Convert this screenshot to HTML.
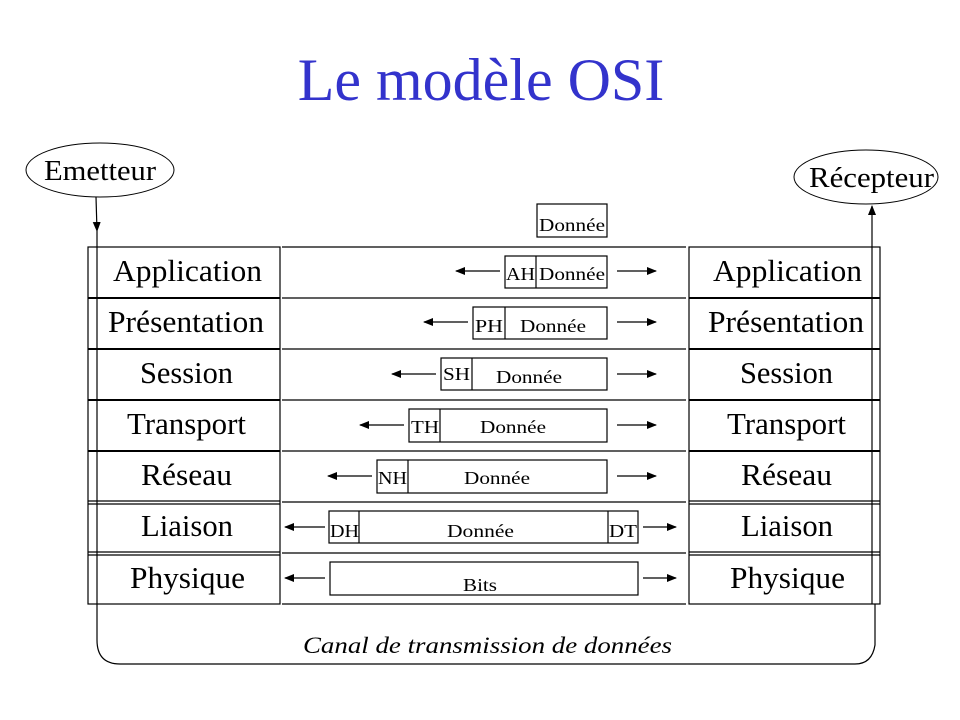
<!DOCTYPE html>
<html><head><meta charset="utf-8"><style>
html,body{margin:0;padding:0;background:#fff;}
svg{display:block;}
text{font-family:"Liberation Serif",serif;fill:#000;}
</style></head><body>
<svg width="960" height="720" viewBox="0 0 960 720" xmlns="http://www.w3.org/2000/svg">
<defs>
<marker id="ah" markerWidth="10" markerHeight="8" refX="9" refY="4" orient="auto" markerUnits="userSpaceOnUse">
<path d="M0,0 L10,4 L0,8 Z" fill="#000"/></marker>
</defs>
<text x="481" y="100" font-size="60" text-anchor="middle" style="fill:#3333cc">Le modèle OSI</text>

<ellipse cx="100" cy="170" rx="74" ry="27" fill="none" stroke="#000" stroke-width="1"/>
<text x="44" y="180" font-size="29" textLength="112" lengthAdjust="spacingAndGlyphs">Emetteur</text>
<ellipse cx="866" cy="177" rx="72" ry="27" fill="none" stroke="#000" stroke-width="1"/>
<text x="809" y="187" font-size="29" textLength="125" lengthAdjust="spacingAndGlyphs">Récepteur</text>

<g stroke="#000" stroke-width="1.2" fill="none">
<rect x="88" y="247" width="192" height="357"/>
<rect x="689" y="247" width="191" height="357"/>
<line x1="88" y1="298" x2="280" y2="298" stroke-width="2"/>
<line x1="88" y1="349" x2="280" y2="349" stroke-width="2"/>
<line x1="88" y1="400" x2="280" y2="400" stroke-width="2"/>
<line x1="88" y1="451" x2="280" y2="451" stroke-width="2"/>
<line x1="88" y1="501" x2="280" y2="501"/><line x1="88" y1="504" x2="280" y2="504"/>
<line x1="88" y1="552" x2="280" y2="552"/><line x1="88" y1="555" x2="280" y2="555"/>
<line x1="689" y1="298" x2="880" y2="298" stroke-width="2"/>
<line x1="689" y1="349" x2="880" y2="349" stroke-width="2"/>
<line x1="689" y1="400" x2="880" y2="400" stroke-width="2"/>
<line x1="689" y1="451" x2="880" y2="451" stroke-width="2"/>
<line x1="689" y1="501" x2="880" y2="501"/><line x1="689" y1="504" x2="880" y2="504"/>
<line x1="689" y1="552" x2="880" y2="552"/><line x1="689" y1="555" x2="880" y2="555"/>
<line x1="282" y1="247" x2="686" y2="247"/>
<line x1="282" y1="298" x2="686" y2="298"/>
<line x1="282" y1="349" x2="686" y2="349"/>
<line x1="282" y1="400" x2="686" y2="400"/>
<line x1="282" y1="451" x2="686" y2="451"/>
<line x1="282" y1="502" x2="686" y2="502"/>
<line x1="282" y1="553" x2="686" y2="553"/>
<line x1="282" y1="604" x2="686" y2="604"/>
<line x1="96" y1="197" x2="97" y2="231" marker-end="url(#ah)"/>
<path d="M97,231 L97,640 Q97,664 120,664 L855,664 Q872,664 875,645 L875,604"/>
<line x1="872" y1="604" x2="872" y2="206" marker-end="url(#ah)"/>
<rect x="537" y="204" width="70" height="33"/>
<rect x="505" y="256" width="102" height="32"/><line x1="536" y1="256" x2="536" y2="288"/>
<rect x="473" y="307" width="134" height="32"/><line x1="505" y1="307" x2="505" y2="339"/>
<rect x="441" y="358" width="166" height="32"/><line x1="472" y1="358" x2="472" y2="390"/>
<rect x="409" y="409" width="198" height="33"/><line x1="440" y1="409" x2="440" y2="442"/>
<rect x="377" y="460" width="230" height="33"/><line x1="408" y1="460" x2="408" y2="493"/>
<rect x="329" y="511" width="309" height="32"/><line x1="359" y1="511" x2="359" y2="543"/><line x1="608" y1="511" x2="608" y2="543"/>
<rect x="330" y="562" width="308" height="33"/>
<line x1="500" y1="271" x2="456" y2="271" marker-end="url(#ah)"/>
<line x1="468" y1="322" x2="424" y2="322" marker-end="url(#ah)"/>
<line x1="436" y1="374" x2="392" y2="374" marker-end="url(#ah)"/>
<line x1="404" y1="425" x2="360" y2="425" marker-end="url(#ah)"/>
<line x1="372" y1="476" x2="328" y2="476" marker-end="url(#ah)"/>
<line x1="325" y1="527" x2="285" y2="527" marker-end="url(#ah)"/>
<line x1="325" y1="578" x2="285" y2="578" marker-end="url(#ah)"/>
<line x1="617" y1="271" x2="656" y2="271" marker-end="url(#ah)"/>
<line x1="617" y1="322" x2="656" y2="322" marker-end="url(#ah)"/>
<line x1="617" y1="374" x2="656" y2="374" marker-end="url(#ah)"/>
<line x1="617" y1="425" x2="656" y2="425" marker-end="url(#ah)"/>
<line x1="617" y1="476" x2="656" y2="476" marker-end="url(#ah)"/>
<line x1="643" y1="527" x2="676" y2="527" marker-end="url(#ah)"/>
<line x1="643" y1="578" x2="676" y2="578" marker-end="url(#ah)"/>
</g>

<g font-size="31" lengthAdjust="spacingAndGlyphs">
<text x="113" y="281" textLength="149" lengthAdjust="spacingAndGlyphs">Application</text>
<text x="108" y="332" textLength="156" lengthAdjust="spacingAndGlyphs">Présentation</text>
<text x="140" y="383" textLength="93" lengthAdjust="spacingAndGlyphs">Session</text>
<text x="127" y="434" textLength="119" lengthAdjust="spacingAndGlyphs">Transport</text>
<text x="141" y="485" textLength="91" lengthAdjust="spacingAndGlyphs">Réseau</text>
<text x="141" y="536" textLength="92" lengthAdjust="spacingAndGlyphs">Liaison</text>
<text x="130" y="588" textLength="115" lengthAdjust="spacingAndGlyphs">Physique</text>
<text x="713" y="281" textLength="149" lengthAdjust="spacingAndGlyphs">Application</text>
<text x="708" y="332" textLength="156" lengthAdjust="spacingAndGlyphs">Présentation</text>
<text x="740" y="383" textLength="93" lengthAdjust="spacingAndGlyphs">Session</text>
<text x="727" y="434" textLength="119" lengthAdjust="spacingAndGlyphs">Transport</text>
<text x="741" y="485" textLength="91" lengthAdjust="spacingAndGlyphs">Réseau</text>
<text x="741" y="536" textLength="92" lengthAdjust="spacingAndGlyphs">Liaison</text>
<text x="730" y="588" textLength="115" lengthAdjust="spacingAndGlyphs">Physique</text>
</g>
<g font-size="18">
<text x="539" y="231" textLength="66" lengthAdjust="spacingAndGlyphs">Donnée</text>
<text x="506" y="280" textLength="29" lengthAdjust="spacingAndGlyphs">AH</text><text x="539" y="280" textLength="66" lengthAdjust="spacingAndGlyphs">Donnée</text>
<text x="475" y="332" textLength="28" lengthAdjust="spacingAndGlyphs">PH</text><text x="520" y="332" textLength="66" lengthAdjust="spacingAndGlyphs">Donnée</text>
<text x="443" y="380" textLength="27" lengthAdjust="spacingAndGlyphs">SH</text><text x="496" y="383" textLength="66" lengthAdjust="spacingAndGlyphs">Donnée</text>
<text x="411" y="433" textLength="28" lengthAdjust="spacingAndGlyphs">TH</text><text x="480" y="433" textLength="66" lengthAdjust="spacingAndGlyphs">Donnée</text>
<text x="378" y="484" textLength="29" lengthAdjust="spacingAndGlyphs">NH</text><text x="464" y="484" textLength="66" lengthAdjust="spacingAndGlyphs">Donnée</text>
<text x="330" y="537" textLength="29" lengthAdjust="spacingAndGlyphs">DH</text><text x="447" y="537" textLength="67" lengthAdjust="spacingAndGlyphs">Donnée</text><text x="609" y="537" textLength="28" lengthAdjust="spacingAndGlyphs">DT</text>
<text x="463" y="591" textLength="34" lengthAdjust="spacingAndGlyphs">Bits</text>
</g>
<text x="303" y="653" font-size="23" font-style="italic" textLength="369" lengthAdjust="spacingAndGlyphs">Canal de transmission de données</text>
</svg>
</body></html>
